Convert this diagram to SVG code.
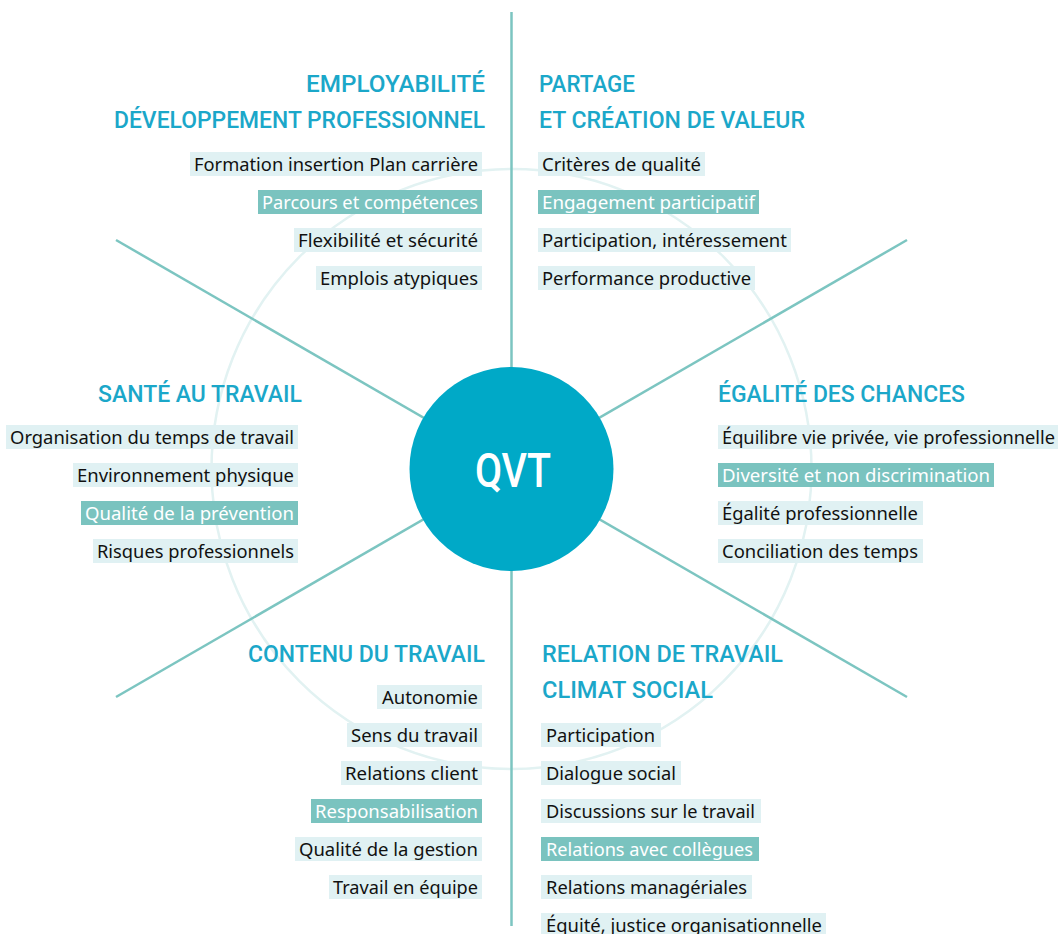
<svg xmlns="http://www.w3.org/2000/svg" width="1058" height="934" viewBox="0 0 1058 934">
<style>
.bg{fill:#ffffff}
.ring{fill:none;stroke:#e2f2f2;stroke-width:2.5}
.spoke{stroke:#7cc5c1;stroke-width:2.5;fill:none}
.hub{fill:#00a9c7}
.hubt{fill:#ffffff;font-family:Roboto,"DejaVu Sans",sans-serif;font-size:48px;font-weight:500}
.h{fill:#1ba7c9;font-family:Roboto,"DejaVu Sans Condensed",sans-serif;font-size:24px;font-weight:500}
.b{fill:#e0f1f3}
.bh{fill:#7ac3bf}
.t,.th{font-family:"Noto Sans","Open Sans",sans-serif;font-size:18px;font-variant-ligatures:none}
.t{fill:#111111}
.th{fill:#ffffff}
</style>
<rect class="bg" x="0" y="0" width="1058" height="934"/>
<circle class="ring" cx="511.5" cy="469" r="300"/>
<g id="connectors">
<line class="spoke" x1="511.5" y1="12" x2="511.5" y2="926"/>
<line class="spoke" x1="116" y1="240" x2="907" y2="697"/>
<line class="spoke" x1="116" y1="697" x2="907" y2="240"/>
</g>
<g id="qvt">
<circle class="hub" cx="511.5" cy="469" r="102"/>
<text class="hubt" x="513" y="487" text-anchor="middle" textLength="76" lengthAdjust="spacingAndGlyphs">QVT</text>
</g>
<g id="employabilite">
<text class="h" x="485" y="92" text-anchor="end" textLength="179" lengthAdjust="spacingAndGlyphs">EMPLOYABILITÉ</text>
<text class="h" x="485" y="128" text-anchor="end" textLength="371" lengthAdjust="spacingAndGlyphs">DÉVELOPPEMENT PROFESSIONNEL</text>
<rect class="b" x="190" y="152" width="292" height="24"/>
<text class="t" x="478" y="170.5" text-anchor="end" textLength="284" lengthAdjust="spacingAndGlyphs">Formation insertion Plan carrière</text>
<rect class="bh" x="258" y="190" width="224" height="24"/>
<text class="th" x="478" y="208.5" text-anchor="end" textLength="216" lengthAdjust="spacingAndGlyphs">Parcours et compétences</text>
<rect class="b" x="294" y="228" width="188" height="24"/>
<text class="t" x="478" y="246.5" text-anchor="end" textLength="180" lengthAdjust="spacingAndGlyphs">Flexibilité et sécurité</text>
<rect class="b" x="316" y="266" width="166" height="24"/>
<text class="t" x="478" y="284.5" text-anchor="end" textLength="158" lengthAdjust="spacingAndGlyphs">Emplois atypiques</text>
</g>
<g id="partage">
<text class="h" x="539" y="92" textLength="96" lengthAdjust="spacingAndGlyphs">PARTAGE</text>
<text class="h" x="539" y="128" textLength="266" lengthAdjust="spacingAndGlyphs">ET CRÉATION DE VALEUR</text>
<rect class="b" x="538" y="152" width="167" height="24"/>
<text class="t" x="542" y="170.5" textLength="159" lengthAdjust="spacingAndGlyphs">Critères de qualité</text>
<rect class="bh" x="538" y="190" width="221" height="24"/>
<text class="th" x="542" y="208.5" textLength="213" lengthAdjust="spacingAndGlyphs">Engagement participatif</text>
<rect class="b" x="538" y="228" width="253" height="24"/>
<text class="t" x="542" y="246.5" textLength="245" lengthAdjust="spacingAndGlyphs">Participation, intéressement</text>
<rect class="b" x="538" y="266" width="217" height="24"/>
<text class="t" x="542" y="284.5" textLength="209" lengthAdjust="spacingAndGlyphs">Performance productive</text>
</g>
<g id="sante">
<text class="h" x="302" y="402" text-anchor="end" textLength="204" lengthAdjust="spacingAndGlyphs">SANTÉ AU TRAVAIL</text>
<rect class="b" x="6" y="425" width="292" height="24"/>
<text class="t" x="294" y="443.5" text-anchor="end" textLength="284" lengthAdjust="spacingAndGlyphs">Organisation du temps de travail</text>
<rect class="b" x="73" y="463" width="225" height="24"/>
<text class="t" x="294" y="481.5" text-anchor="end" textLength="217" lengthAdjust="spacingAndGlyphs">Environnement physique</text>
<rect class="bh" x="81" y="501" width="217" height="24"/>
<text class="th" x="294" y="519.5" text-anchor="end" textLength="209" lengthAdjust="spacingAndGlyphs">Qualité de la prévention</text>
<rect class="b" x="93" y="539" width="205" height="24"/>
<text class="t" x="294" y="557.5" text-anchor="end" textLength="197" lengthAdjust="spacingAndGlyphs">Risques professionnels</text>
</g>
<g id="egalite">
<text class="h" x="718" y="402" textLength="247" lengthAdjust="spacingAndGlyphs">ÉGALITÉ DES CHANCES</text>
<rect class="b" x="718" y="425" width="340" height="24"/>
<text class="t" x="722" y="443.5" textLength="333" lengthAdjust="spacingAndGlyphs">Équilibre vie privée, vie professionnelle</text>
<rect class="bh" x="718" y="463" width="276" height="24"/>
<text class="th" x="722" y="481.5" textLength="268" lengthAdjust="spacingAndGlyphs">Diversité et non discrimination</text>
<rect class="b" x="718" y="501" width="205" height="24"/>
<text class="t" x="722" y="519.5" textLength="196" lengthAdjust="spacingAndGlyphs">Égalité professionnelle</text>
<rect class="b" x="718" y="539" width="205" height="24"/>
<text class="t" x="722" y="557.5" textLength="196" lengthAdjust="spacingAndGlyphs">Conciliation des temps</text>
</g>
<g id="contenu">
<text class="h" x="485" y="662" text-anchor="end" textLength="237" lengthAdjust="spacingAndGlyphs">CONTENU DU TRAVAIL</text>
<rect class="b" x="377" y="685" width="105" height="24"/>
<text class="t" x="478" y="703.5" text-anchor="end" textLength="96" lengthAdjust="spacingAndGlyphs">Autonomie</text>
<rect class="b" x="347" y="723" width="135" height="24"/>
<text class="t" x="478" y="741.5" text-anchor="end" textLength="127" lengthAdjust="spacingAndGlyphs">Sens du travail</text>
<rect class="b" x="341" y="761" width="141" height="24"/>
<text class="t" x="478" y="779.5" text-anchor="end" textLength="133" lengthAdjust="spacingAndGlyphs">Relations client</text>
<rect class="bh" x="311" y="799" width="171" height="24"/>
<text class="th" x="478" y="817.5" text-anchor="end" textLength="163" lengthAdjust="spacingAndGlyphs">Responsabilisation</text>
<rect class="b" x="295" y="837" width="187" height="24"/>
<text class="t" x="478" y="855.5" text-anchor="end" textLength="179" lengthAdjust="spacingAndGlyphs">Qualité de la gestion</text>
<rect class="b" x="329" y="875" width="153" height="24"/>
<text class="t" x="478" y="893.5" text-anchor="end" textLength="145" lengthAdjust="spacingAndGlyphs">Travail en équipe</text>
</g>
<g id="relation">
<text class="h" x="542" y="662" textLength="241" lengthAdjust="spacingAndGlyphs">RELATION DE TRAVAIL</text>
<text class="h" x="542" y="698" textLength="171" lengthAdjust="spacingAndGlyphs">CLIMAT SOCIAL</text>
<rect class="b" x="541" y="723" width="120" height="24"/>
<text class="t" x="546" y="741.5" textLength="109" lengthAdjust="spacingAndGlyphs">Participation</text>
<rect class="b" x="541" y="761" width="140" height="24"/>
<text class="t" x="546" y="779.5" textLength="130" lengthAdjust="spacingAndGlyphs">Dialogue social</text>
<rect class="b" x="541" y="799" width="220" height="24"/>
<text class="t" x="546" y="817.5" textLength="209" lengthAdjust="spacingAndGlyphs">Discussions sur le travail</text>
<rect class="bh" x="541" y="837" width="218" height="24"/>
<text class="th" x="546" y="855.5" textLength="207" lengthAdjust="spacingAndGlyphs">Relations avec collègues</text>
<rect class="b" x="541" y="875" width="211" height="24"/>
<text class="t" x="546" y="893.5" textLength="201" lengthAdjust="spacingAndGlyphs">Relations managériales</text>
<rect class="b" x="541" y="913" width="285" height="24"/>
<text class="t" x="546" y="931.5" textLength="276" lengthAdjust="spacingAndGlyphs">Équité, justice organisationnelle</text>
</g>
</svg>
